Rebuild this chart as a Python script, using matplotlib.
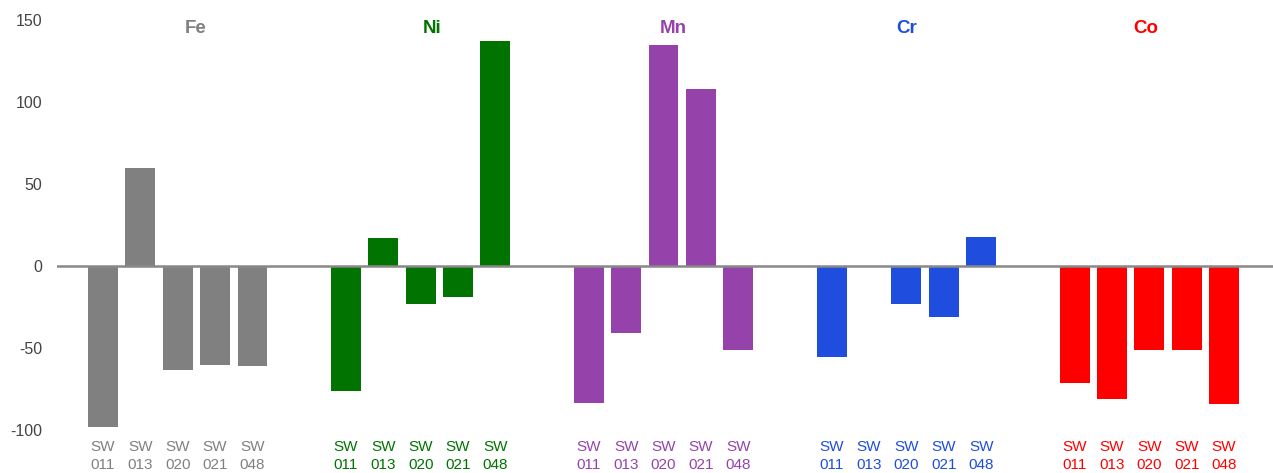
import matplotlib
matplotlib.use("Agg")
import matplotlib.pyplot as plt
import numpy as np

plt.rcParams['font.family'] = ['Liberation Sans', 'DejaVu Sans']

elements = ["Fe", "Ni", "Mn", "Cr", "Co"]
samples = ["SW\n011", "SW\n013", "SW\n020", "SW\n021", "SW\n048"]
colors = ["#808080", "#007300", "#9543AB", "#1F4DDE", "#FF0000"]

fe = [-98.0, 59.5, -63.3, -60.2, -60.9]
ni = [-76.1, 16.9, -23.1, -18.9, 137.4]
mn = [-83.4, -40.8, 134.9, 108.2, -51.1]
cr = [-55.4, np.nan, -23.1, -31.0, 17.5]
co = [-71.2, -80.9, -51.1, -51.1, -84.0]
series = [fe, ni, mn, cr, co]

yticks = [-100, -50, 0, 50, 100, 150]

# horizontal offsets of the element titles within each group (in bar slots)
title_offsets = [2.49, 2.30, 2.25, 2.0, 1.90]

fig = plt.figure(figsize=(12.73, 4.73), dpi=100)
ax = fig.add_axes([0.0448, 0.0909, 0.9552, 0.8668])

group_pitch = 6.5
positions = []
labels = []
label_colors = []
for g, (vals, col) in enumerate(zip(series, colors)):
    xs = g * group_pitch + np.arange(len(samples))
    ax.bar(xs, vals, width=0.8, color=col, zorder=2)
    positions.extend(xs)
    labels.extend(samples)
    label_colors.extend([col] * len(samples))
    ax.text(g * group_pitch + title_offsets[g], 145.0, elements[g], color=col,
            fontsize=13.5, fontweight='bold', ha='center', va='center')

ax.axhline(0, color='#888888', lw=1.8, zorder=3)

ax.set_xlim(-1.23, 4 * group_pitch + 4 + 1.31)
ax.set_ylim(-100, 150)
ax.set_yticks(yticks)
ax.set_yticklabels([str(t) for t in yticks], color='#444444', fontsize=11.5)
ax.set_xticks(positions)
ax.set_xticklabels(labels, fontsize=11, linespacing=1.3)
for t, c in zip(ax.get_xticklabels(), label_colors):
    t.set_color(c)
ax.tick_params(axis='both', length=0)
ax.tick_params(axis='x', pad=7.5)
ax.tick_params(axis='y', pad=10.5)
for s in ax.spines.values():
    s.set_visible(False)

fig.savefig("out.png", dpi=100)
